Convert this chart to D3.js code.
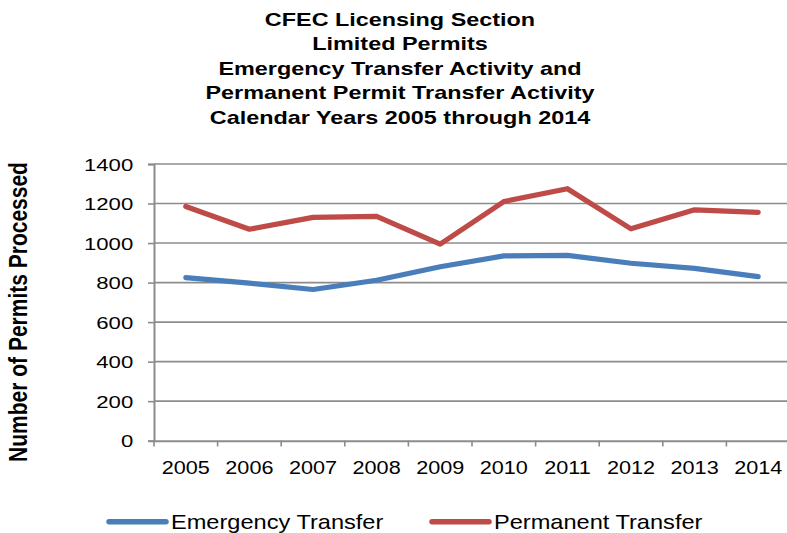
<!DOCTYPE html>
<html><head><meta charset="utf-8">
<script src="https://cdn.jsdelivr.net/npm/d3@7"></script>
<style>html,body{margin:0;padding:0;background:#fff;overflow:hidden}svg{display:block}</style>
</head><body>
<script>
const years = ["2005","2006","2007","2008","2009","2010","2011","2012","2013","2014"];
const emergency = [825, 797, 765, 812, 880, 935, 938, 898, 872, 830];
const permanent = [1185, 1070, 1130, 1135, 995, 1210, 1275, 1072, 1168, 1155];
const yTicks = [0, 200, 400, 600, 800, 1000, 1200, 1400];
const titleLines = ["CFEC Licensing Section","Limited Permits","Emergency Transfer Activity and","Permanent Permit Transfer Activity","Calendar Years 2005 through 2014"];
const seriesNames = ["Emergency Transfer","Permanent Transfer"];
const colors = ["#4a7ebb","#be4b48"];

const W = 787, H = 533;
const svg = d3.select("body").append("svg").attr("width", W).attr("height", H);
const font = "'Liberation Sans', Arial, sans-serif";

const x = d3.scaleBand().domain(years).range([154, 790]);
const y = d3.scaleLinear().domain([0, 1400]).range([440.7, 164]);

function stretch(sel, sx) {
  sel.each(function(){
    const t = d3.select(this);
    const ax = +t.attr("x"), ay = +t.attr("y");
    t.attr("transform", `translate(${ax},${ay}) scale(${sx},1) translate(${-ax},${-ay})`);
  });
}

// gridlines
svg.append("g").selectAll("line").data(yTicks.filter(d => d > 0)).join("line")
  .attr("x1", 154).attr("x2", 790).attr("y1", d => y(d)).attr("y2", d => y(d))
  .attr("stroke", "#8c8c8c").attr("stroke-width", 1.6);

// y axis
const ySx = 1.28;
const yAxis = svg.append("g").attr("transform", "translate(154,0)")
  .call(d3.axisLeft(y).tickValues(yTicks).tickSize(6).tickFormat(d3.format("d")));
yAxis.select(".domain").attr("stroke", "#8c8c8c").attr("stroke-width", 2);
yAxis.selectAll(".tick line").attr("stroke", "#8c8c8c").attr("stroke-width", 1.6);
yAxis.selectAll(".tick text").attr("font-family", font).attr("font-size", 17.3).attr("fill", "#000")
  .attr("dy", "0.35em").attr("x", -20.8 / ySx)
  .attr("transform", `scale(${ySx},1)`);

// x axis
const xSx = 1.17;
const xAxis = svg.append("g").attr("transform", "translate(0,440.7)")
  .call(d3.axisBottom(x).tickSize(0).tickPadding(0));
xAxis.select(".domain").attr("stroke", "#8c8c8c").attr("stroke-width", 2);
xAxis.selectAll(".tick line").remove();
xAxis.selectAll(".tick text").attr("font-family", font).attr("font-size", 18.5).attr("fill", "#000")
  .attr("dy", 0).attr("y", 33.5).attr("transform", `scale(${xSx},1)`);
// category boundary ticks
const bounds = years.map(d => x(d)).concat([x.range()[1]]);
svg.append("g").selectAll("line").data(bounds).join("line")
  .attr("x1", d => d).attr("x2", d => d).attr("y1", 440.7).attr("y2", 446.5)
  .attr("stroke", "#8c8c8c").attr("stroke-width", 1.6);

// lines
const line = d3.line().x((d, i) => x(years[i]) + x.bandwidth() / 2).y(d => y(d));
[emergency, permanent].forEach((s, k) => {
  svg.append("path").datum(s).attr("d", line).attr("fill", "none")
    .attr("stroke", colors[k]).attr("stroke-width", 5.2)
    .attr("stroke-linejoin", "round").attr("stroke-linecap", "round");
});

// title
svg.append("g").selectAll("text").data(titleLines).join("text")
  .attr("x", 400).attr("y", (d, i) => 26 + i * 24.5)
  .attr("text-anchor", "middle").attr("font-family", font).attr("font-weight", "bold")
  .attr("font-size", 17.6).attr("fill", "#000").text(d => d)
  .call(stretch, 1.33);

// y title (glyph height stretched horizontally)
svg.append("text").attr("transform", "translate(27,312) rotate(-90) scale(1,1.2)")
  .attr("text-anchor", "middle").attr("font-family", font).attr("font-weight", "bold")
  .attr("font-size", 21).attr("fill", "#000").text("Number of Permits Processed");

// legend
const legX = [109, 432];
const lg = svg.append("g").selectAll("g").data(seriesNames).join("g");
lg.append("line").attr("x1", (d, i) => legX[i]).attr("x2", (d, i) => legX[i] + 57)
  .attr("y1", 521.7).attr("y2", 521.7).attr("stroke", (d, i) => colors[i])
  .attr("stroke-width", 5.5).attr("stroke-linecap", "round");
lg.append("text").attr("x", (d, i) => legX[i] + 62).attr("y", 529.3)
  .attr("font-family", font).attr("font-size", 20).attr("fill", "#000").text(d => d)
  .call(stretch, 1.18);
</script>
</body></html>
